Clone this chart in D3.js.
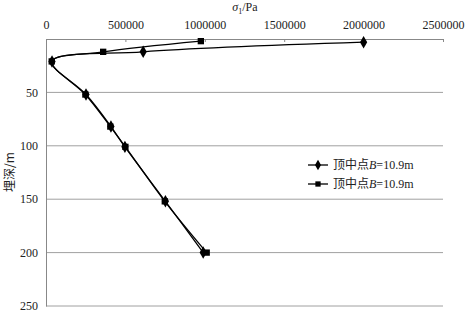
<!DOCTYPE html>
<html>
<head>
<meta charset="utf-8">
<script src="https://cdn.jsdelivr.net/npm/d3@7"></script>
<style>
  body { margin: 0; background: #fff; }
  svg text { fill: #222; }
</style>
</head>
<body>
<svg id="chart" width="466" height="313"></svg>
<script>
var xTicks = [0, 500000, 1000000, 1500000, 2000000, 2500000];
var yTicks = [50, 100, 150, 200, 250];

// series 1 (diamond)
var depth1 = [3, 12, 21, 52, 82, 101, 152, 200];
var stress1 = [2000000, 612000, 38000, 252000, 409000, 497000, 752000, 990000];
// series 2 (square)
var depth2 = [2, 12, 21, 52, 82, 101, 152, 200];
var stress2 = [975000, 360000, 36000, 248000, 405000, 500000, 748000, 1012000];

var legendLabels = ["顶中点", "顶中点"];

var serif = "'Liberation Serif', 'DejaVu Serif', serif";
var cjk = "'Noto Sans CJK SC'";

var svg = d3.select("#chart");
var margin = {left: 46, top: 39};
var w = 443 - margin.left,
    h = 306 - margin.top;

var x = d3.scaleLinear().domain([0, 2500000]).range([0, w]);
var y = d3.scaleLinear().domain([0, 250]).range([0, h]);

var g = svg.append("g")
    .attr("transform", "translate(" + margin.left + "," + margin.top + ")");

// gridlines
g.selectAll(".grid")
    .data(yTicks)
  .enter().append("line")
    .attr("x1", 0)
    .attr("x2", w)
    .attr("y1", function(d) { return y(d); })
    .attr("y2", function(d) { return y(d); })
    .style("stroke", "#a0a0a0")
    .style("stroke-width", "1px");

// top axis
var xAxis = g.append("g")
    .call(d3.axisTop(x).tickValues(xTicks).tickSize(-3).tickPadding(10).tickFormat(d3.format("d")))
    .attr("font-family", serif)
    .attr("font-size", 12);
xAxis.select(".domain").style("stroke", "#888");
xAxis.selectAll(".tick line").style("stroke", "#888");

// left axis
var yAxis = g.append("g")
    .call(d3.axisLeft(y).tickValues(yTicks).tickSize(0).tickPadding(8))
    .attr("font-family", serif)
    .attr("font-size", 12);
yAxis.select(".domain").style("stroke", "#888");
yAxis.selectAll(".tick text").attr("dy", "0.3em");

// axis titles
var xt = svg.append("text")
    .attr("x", 245)
    .attr("y", 11)
    .attr("text-anchor", "middle")
    .attr("font-family", serif)
    .attr("font-size", 12);
xt.append("tspan").text("σ").attr("font-style", "italic");
xt.append("tspan").text("1").attr("dy", 3).attr("font-size", 8);
xt.append("tspan").text("/Pa").attr("dy", -3);

svg.append("text")
    .attr("transform", "translate(14,172) rotate(-90)")
    .attr("text-anchor", "middle")
    .attr("font-size", 12)
    .attr("font-family", cjk)
    .text("埋深/m");

var line = d3.line()
    .x(function(d) { return x(d[1]); })
    .y(function(d) { return y(d[0]); })
    .curve(d3.curveCatmullRom.alpha(0.5));

var s1 = d3.zip(depth1, stress1),
    s2 = d3.zip(depth2, stress2);

[s1, s2].forEach(function(s) {
  g.append("path")
      .datum(s)
      .attr("d", line)
      .style("fill", "none")
      .style("stroke", "#000")
      .style("stroke-width", "1.3px");
});

var diamond = d3.symbol().type(d3.symbolDiamond).size(45),
    square = d3.symbol().type(d3.symbolSquare).size(40);

g.selectAll(".m1")
    .data(s1)
  .enter().append("path")
    .attr("d", diamond)
    .attr("transform", function(d) { return "translate(" + x(d[1]) + "," + y(d[0]) + ")"; })
    .style("fill", "#000");

g.selectAll(".m2")
    .data(s2)
  .enter().append("path")
    .attr("d", square)
    .attr("transform", function(d) { return "translate(" + x(d[1]) + "," + y(d[0]) + ")"; })
    .style("fill", "#000");

// legend
var legend = svg.append("g").attr("transform", "translate(308,165)");
[d3.symbol().type(d3.symbolDiamond).size(32), d3.symbol().type(d3.symbolSquare).size(28)].forEach(function(sym, i) {
  var row = legend.append("g").attr("transform", "translate(0," + (i * 19) + ")");
  row.append("line")
      .attr("x1", 0).attr("x2", 20)
      .style("stroke", "#000").style("stroke-width", "1.3px");
  row.append("path")
      .attr("d", sym)
      .attr("transform", "translate(10,0)")
      .style("fill", "#000");
  var t = row.append("text")
      .attr("x", 25)
      .attr("y", 4)
      .attr("font-family", serif)
      .attr("font-size", 12);
  t.append("tspan").text(legendLabels[i]).attr("font-family", cjk);
  t.append("tspan").text("B").attr("font-style", "italic");
  t.append("tspan").text("=10.9m");
});
</script>
</body>
</html>
